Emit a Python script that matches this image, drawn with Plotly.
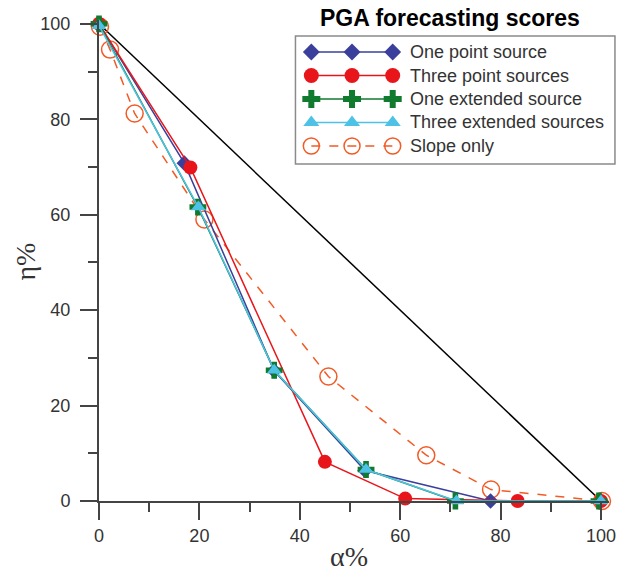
import plotly.graph_objects as go

# ---------------- data ----------------
alpha_one_point = [0, 17.0, 34.9, 53.0, 78.0, 100]
eta_one_point = [100, 70.8, 27.3, 6.4, 0, 0]

alpha_three_point = [0, 18.2, 45.0, 61.0, 83.4, 100]
eta_three_point = [100, 69.9, 8.2, 0.5, 0, 0]

alpha_one_ext = [0, 19.7, 34.9, 53.2, 71.0, 99.6]
eta_one_ext = [100, 61.6, 27.4, 6.6, 0, 0]

alpha_three_ext = [0, 19.8, 34.9, 53.2, 71.2, 100]
eta_three_ext = [99.6, 61.6, 27.4, 6.6, 0, 0]

alpha_slope = [0.2, 2.2, 7.1, 21.0, 45.7, 65.2, 78.1, 100.2]
eta_slope = [99.4, 94.6, 81.2, 59.0, 26.1, 9.6, 2.4, 0]

alpha_random = [0, 100]
eta_random = [100, 0]

series_names = ["One point source", "Three point sources", "One extended source",
                "Three extended sources", "Slope only"]
x_ticks = [0, 20, 40, 60, 80, 100]
y_ticks = [0, 20, 40, 60, 80, 100]

# ---------------- styles ----------------
W, H = 628, 573
L, R, T, B = 99, 15, 20, 72
PW, PH = W - L - R, H - T - B
BLUE = "#3A3F9C"
RED = "#E8161B"
GREEN = "#107A2E"
CYAN = "#4EC2E6"
ORANGE = "#F25A26"
AXC = "#444444"
TXT = "#333333"
SANS = "Liberation Sans, Arial, sans-serif"
SERIF = "Liberation Serif, Times New Roman, serif"


def px(xp):
    return (xp - L) / PW


def py(yp):
    return (H - B - yp) / PH


styles = [
    dict(color=BLUE, symbol="diamond", size=12, dash="solid", open=False),
    dict(color=RED, symbol="circle", size=14, dash="solid", open=False),
    dict(color=GREEN, symbol="cross", size=14, dash="solid", open=False),
    dict(color=CYAN, symbol="triangle-up", size=13, dash="solid", open=False),
    dict(color=ORANGE, symbol="circle-open", size=17, dash="dash", open=True),
]

fig = go.Figure()

fig.add_trace(go.Scatter(x=alpha_random, y=eta_random, mode="lines",
                         line=dict(color="black", width=1.5), showlegend=False,
                         cliponaxis=False, hoverinfo="skip"))

data = [
    (alpha_slope, eta_slope, 4),
    (alpha_one_point, eta_one_point, 0),
    (alpha_three_point, eta_three_point, 1),
    (alpha_one_ext, eta_one_ext, 2),
    (alpha_three_ext, eta_three_ext, 3),
]
for xs, ys, i in data:
    s = styles[i]
    fig.add_trace(go.Scatter(
        x=xs, y=ys, mode="lines+markers", name=series_names[i],
        line=dict(color=s["color"], width=1.5, dash=s["dash"]),
        marker=dict(symbol=s["symbol"], size=s["size"], color=s["color"],
                    line=dict(width=1.5 if s["open"] else 0, color=s["color"])),
        showlegend=False, cliponaxis=False))

# ---------------- custom legend on a pixel-space overlay axis ----------------
leg_rows = [52, 75.5, 99, 122.5, 146]
leg_x = [313, 354, 395]
for i, name in enumerate(series_names):
    s = styles[i]
    fig.add_trace(go.Scatter(
        x=leg_x, y=[leg_rows[i]] * 3, xaxis="x2", yaxis="y2",
        mode="lines+markers",
        line=dict(color=s["color"], width=1.5, dash=s["dash"]),
        marker=dict(symbol=s["symbol"], size=s["size"] + (1 if not s["open"] else -1), color=s["color"],
                    line=dict(width=1.5 if s["open"] else 0, color=s["color"])),
        showlegend=False, cliponaxis=False, hoverinfo="skip"))
    fig.add_annotation(x=px(410), y=py(leg_rows[i]), xref="paper", yref="paper", text=name,
                       showarrow=False, xanchor="left", yanchor="middle",
                       font=dict(family=SANS, size=18, color=TXT))

fig.add_shape(type="rect", x0=px(297), x1=px(619), y0=py(36), y1=py(164), xref="paper", yref="paper",
              line=dict(color="#8a8a8a", width=1.5), fillcolor="rgba(0,0,0,0)", layer="below")

fig.add_annotation(x=px(453), y=py(18), xref="paper", yref="paper", text="<b>PGA forecasting scores</b>",
                   showarrow=False, xanchor="center", yanchor="middle",
                   font=dict(family=SANS, size=23, color="black"))

# axis titles
fig.add_annotation(x=px(24), y=py(262), xref="paper", yref="paper", text="η%", textangle=-90,
                   showarrow=False, xanchor="center", yanchor="middle",
                   font=dict(family=SERIF, size=28, color=TXT))
fig.add_annotation(x=px(351), y=py(556), xref="paper", yref="paper", text="α%",
                   showarrow=False, xanchor="center", yanchor="middle",
                   font=dict(family=SERIF, size=28, color=TXT))

axis_common = dict(showgrid=False, zeroline=False, showline=True, linecolor=AXC, linewidth=2,
                   ticks="outside", ticklen=17, tickwidth=2, tickcolor=AXC,
                   tickfont=dict(family=SANS, size=18, color=TXT),
                   minor=dict(ticks="outside", ticklen=9, tickwidth=2, tickcolor=AXC, dtick=10,
                              showgrid=False))

fig.update_layout(
    width=W, height=H,
    margin=dict(l=L, r=R, t=T, b=B, pad=0),
    paper_bgcolor="white", plot_bgcolor="white",
    showlegend=False,
    xaxis=dict(range=[0, 101.6], tickvals=x_ticks, **axis_common),
    yaxis=dict(range=[0, 100.8], tickvals=y_ticks, ticklabelstandoff=6, **axis_common),
    xaxis2=dict(range=[L, W - R], overlaying="x", anchor="y2", visible=False, fixedrange=True),
    yaxis2=dict(range=[H - B, T], overlaying="y", anchor="x2", visible=False, fixedrange=True),
)

fig.write_html("out.html")
